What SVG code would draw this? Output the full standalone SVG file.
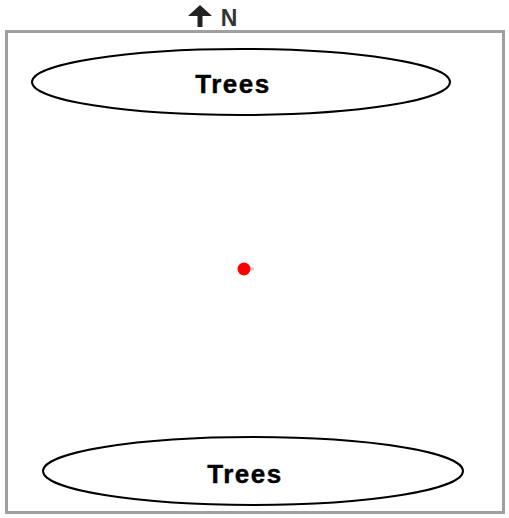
<svg xmlns="http://www.w3.org/2000/svg" width="509" height="518" viewBox="0 0 509 518">
<style>
.tree{fill:#fff;stroke:#000;stroke-width:2}
.lbl{font-family:"Liberation Sans",Arial,sans-serif;font-weight:bold;font-size:26px;letter-spacing:1.5px;text-anchor:middle;fill:#000;stroke:#000;stroke-width:0.4}
</style>
<rect width="509" height="518" fill="#fff"/>
<rect id="frame" x="6.5" y="31.5" width="497" height="481" fill="none" stroke="#a0a0a0" stroke-width="3"/>
<g id="north">
<path d="M188 16 L200 5 L212 16 L202.5 16 L202.5 27 L197.5 27 L197.5 16 Z" fill="#222"/>
<text x="229" y="26" font-family="Liberation Sans,Arial,sans-serif" font-weight="bold" font-size="23" fill="#333" text-anchor="middle">N</text>
</g>
<g id="trees-top">
<ellipse class="tree" cx="241" cy="82" rx="209" ry="33"/>
<text class="lbl" x="233" y="93">Trees</text>
</g>
<g id="trees-bottom">
<ellipse class="tree" cx="253" cy="471" rx="210" ry="34"/>
<text class="lbl" x="245" y="483">Trees</text>
</g>
<g id="point">
<line x1="244" y1="269" x2="254" y2="269" stroke="#ccc" stroke-width="3"/>
<circle cx="244" cy="269" r="6.5" fill="#f00"/>
</g>
<g id="connectors"></g>
</svg>
